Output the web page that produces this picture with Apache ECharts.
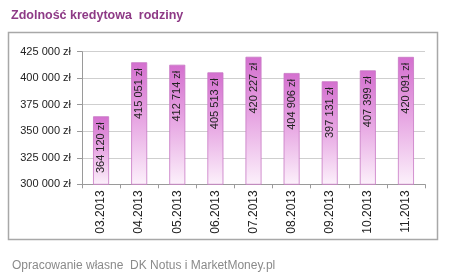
<!DOCTYPE html>
<html><head><meta charset="utf-8">
<script src="https://cdn.jsdelivr.net/npm/echarts@6/dist/echarts.min.js"></script>
<style>html,body{margin:0;padding:0;background:#fff}#c{width:450px;height:277px}</style>
</head><body><div id="c"></div>
<script>
var categories = ['03.2013','04.2013','05.2013','06.2013','07.2013','08.2013','09.2013','10.2013','11.2013'];
var values = [364120, 415051, 412714, 405513, 420227, 404906, 397131, 407399, 420091];
var titleText = 'Zdolność kredytowa  rodziny';
var footerText = 'Opracowanie własne  DK Notus i MarketMoney.pl';

function fmt(v){ return String(v).replace(/\B(?=(\d{3})+(?!\d))/g,' ') + ' zł'; }

var chart = echarts.init(document.getElementById('c'), null, {renderer:'canvas'});
chart.setOption({
  animation:false,
  backgroundColor:'#fff',
  title:[
    {text:titleText, left:6, top:4, textStyle:{fontFamily:'Liberation Sans', fontSize:12.5, fontWeight:'bold', color:'#8e3a86'}},
    {text:footerText, left:7, top:255, textStyle:{fontFamily:'Liberation Sans', fontSize:12, fontWeight:'normal', color:'#8a8a8a'}}
  ],
  graphic:[{type:'rect', shape:{x:8.5, y:32.5, width:429, height:207}, style:{fill:'none', stroke:'#a8a8a8', lineWidth:1.5}, z:-1}],
  grid:{left:82, right:25, top:51.7, bottom:92.7},
  xAxis:{type:'category', data:categories,
    axisLine:{lineStyle:{color:'#9a9a9a'}},
    axisTick:{show:true, length:4, lineStyle:{color:'#9a9a9a'}},
    axisLabel:{rotate:90, margin:6, color:'#222', fontFamily:'Liberation Sans', fontSize:12}
  },
  yAxis:{type:'value', min:300000, max:425000, interval:25000,
    axisLine:{show:true, lineStyle:{color:'#9a9a9a'}},
    axisTick:{show:true, length:5, lineStyle:{color:'#9a9a9a'}},
    axisLabel:{margin:11, color:'#222', fontFamily:'Liberation Sans', fontSize:11, formatter:function(v){return fmt(v);}},
    splitLine:{lineStyle:{color:'#cfcfcf'}}
  },
  series:[{type:'bar', data:values, barWidth:16,
    itemStyle:{borderColor:'#c878c4', borderWidth:0.8,
      color:new echarts.graphic.LinearGradient(0,0,0,1,[{offset:0,color:'#d470cf'},{offset:0.5,color:'#e8aae4'},{offset:1,color:'#fcf1fb'}])},
    label:{show:true, position:'insideTop', distance:6, rotate:90, align:'right', verticalAlign:'middle',
      color:'#222', fontFamily:'Liberation Sans', fontSize:11, formatter:function(p){return fmt(p.value);}}
  }]
});
</script></body></html>
